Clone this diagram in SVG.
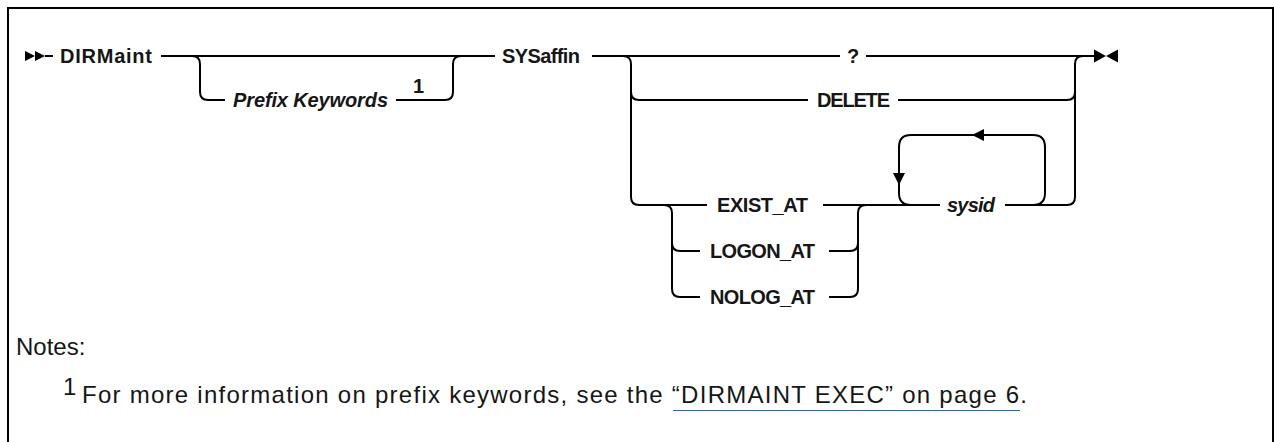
<svg xmlns="http://www.w3.org/2000/svg" width="1274" height="442" viewBox="0 0 1274 442">
<style>
.ln{fill:none;stroke:#000;stroke-width:2}
.kw{font-family:"Liberation Sans",Arial,sans-serif;font-size:20px;font-weight:700;fill:#161616}
.var{font-family:"Liberation Sans",Arial,sans-serif;font-size:20px;font-style:italic;font-weight:700;fill:#161616}
.note{font-family:"Liberation Sans",Arial,sans-serif;font-size:24px;fill:#161616}
.ar{fill:#000}
</style>
<rect width="1274" height="442" fill="#fff"/>
<path class="ln" d="M8,442 V8 H1273 V442"/>
<g id="connectors">
<path class="ln" d="M45,56 H53"/>
<path class="ln" d="M161,56 H495"/>
<path class="ln" d="M192,56 Q200,56 200,64 V92 Q200,100 208,100 H225"/>
<path class="ln" d="M396,100 H445 Q453,100 453,92 V64 Q453,56 461,56"/>
<path class="ln" d="M592,56 H840"/>
<path class="ln" d="M866,56 H1095"/>
<path class="ln" d="M623,56 Q631,56 631,64 V197 Q631,205 639,205 H707"/>
<path class="ln" d="M631,92 Q631,100 639,100 H808"/>
<path class="ln" d="M898,100 H1067 Q1075,100 1075,92"/>
<path class="ln" d="M1005,205 H1067 Q1075,205 1075,197 V64 Q1075,56 1083,56"/>
<path class="ln" d="M664,205 Q672,205 672,213 V289 Q672,297 680,297 H700"/>
<path class="ln" d="M672,243 Q672,251 680,251 H700"/>
<path class="ln" d="M823,205 H940"/>
<path class="ln" d="M829,251 H850 Q858,251 858,243"/>
<path class="ln" d="M829,297 H850 Q858,297 858,289 V213 Q858,205 866,205"/>
<path class="ln" d="M1033,205 Q1045,205 1045,193 V147 Q1045,135 1033,135 H911 Q899,135 899,147 V193 Q899,205 911,205"/>
<polygon class="ar" points="972,135 984,129 984,141"/>
<polygon class="ar" points="899,185 893,173 905,173"/>
<polygon class="ar" points="25,51 35,56 25,61"/>
<polygon class="ar" points="35,51 45,56 35,61"/>
<polygon class="ar" points="1094,49.5 1106,56 1094,62.5"/>
<polygon class="ar" points="1118,49.5 1106,56 1118,62.5"/>
</g>
<g id="n-dirmaint"><text class="kw" x="60" y="63" textLength="92">DIRMaint</text></g>
<g id="n-prefix"><text class="var" x="233" y="107" textLength="155" font-weight="600">Prefix Keywords</text>
<text class="kw" x="413" y="93" font-size="17">1</text></g>
<g id="n-sysaffin"><text class="kw" x="502" y="63" textLength="78">SYSaffin</text></g>
<g id="n-q"><text class="kw" x="853" y="63" text-anchor="middle">?</text></g>
<g id="n-delete"><text class="kw" x="817" y="107" textLength="73">DELETE</text></g>
<g id="n-exist"><text class="kw" x="717" y="212" textLength="91">EXIST_AT</text></g>
<g id="n-logon"><text class="kw" x="710" y="258" textLength="105">LOGON_AT</text></g>
<g id="n-nolog"><text class="kw" x="710" y="304" textLength="105">NOLOG_AT</text></g>
<g id="n-sysid"><text class="var" x="947" y="212" textLength="48" font-weight="600">sysid</text></g>
<g id="notes">
<text class="note" x="16" y="355">Notes:</text>
<text class="note" x="63" y="395" font-size="15">1</text>
<text class="note" x="82" y="403" textLength="945">For more information on prefix keywords, see the “DIRMAINT EXEC” on page 6.</text>
<line x1="673" y1="410.5" x2="1020" y2="410.5" stroke="#0f62fe" stroke-width="1"/>
</g>
</svg>
